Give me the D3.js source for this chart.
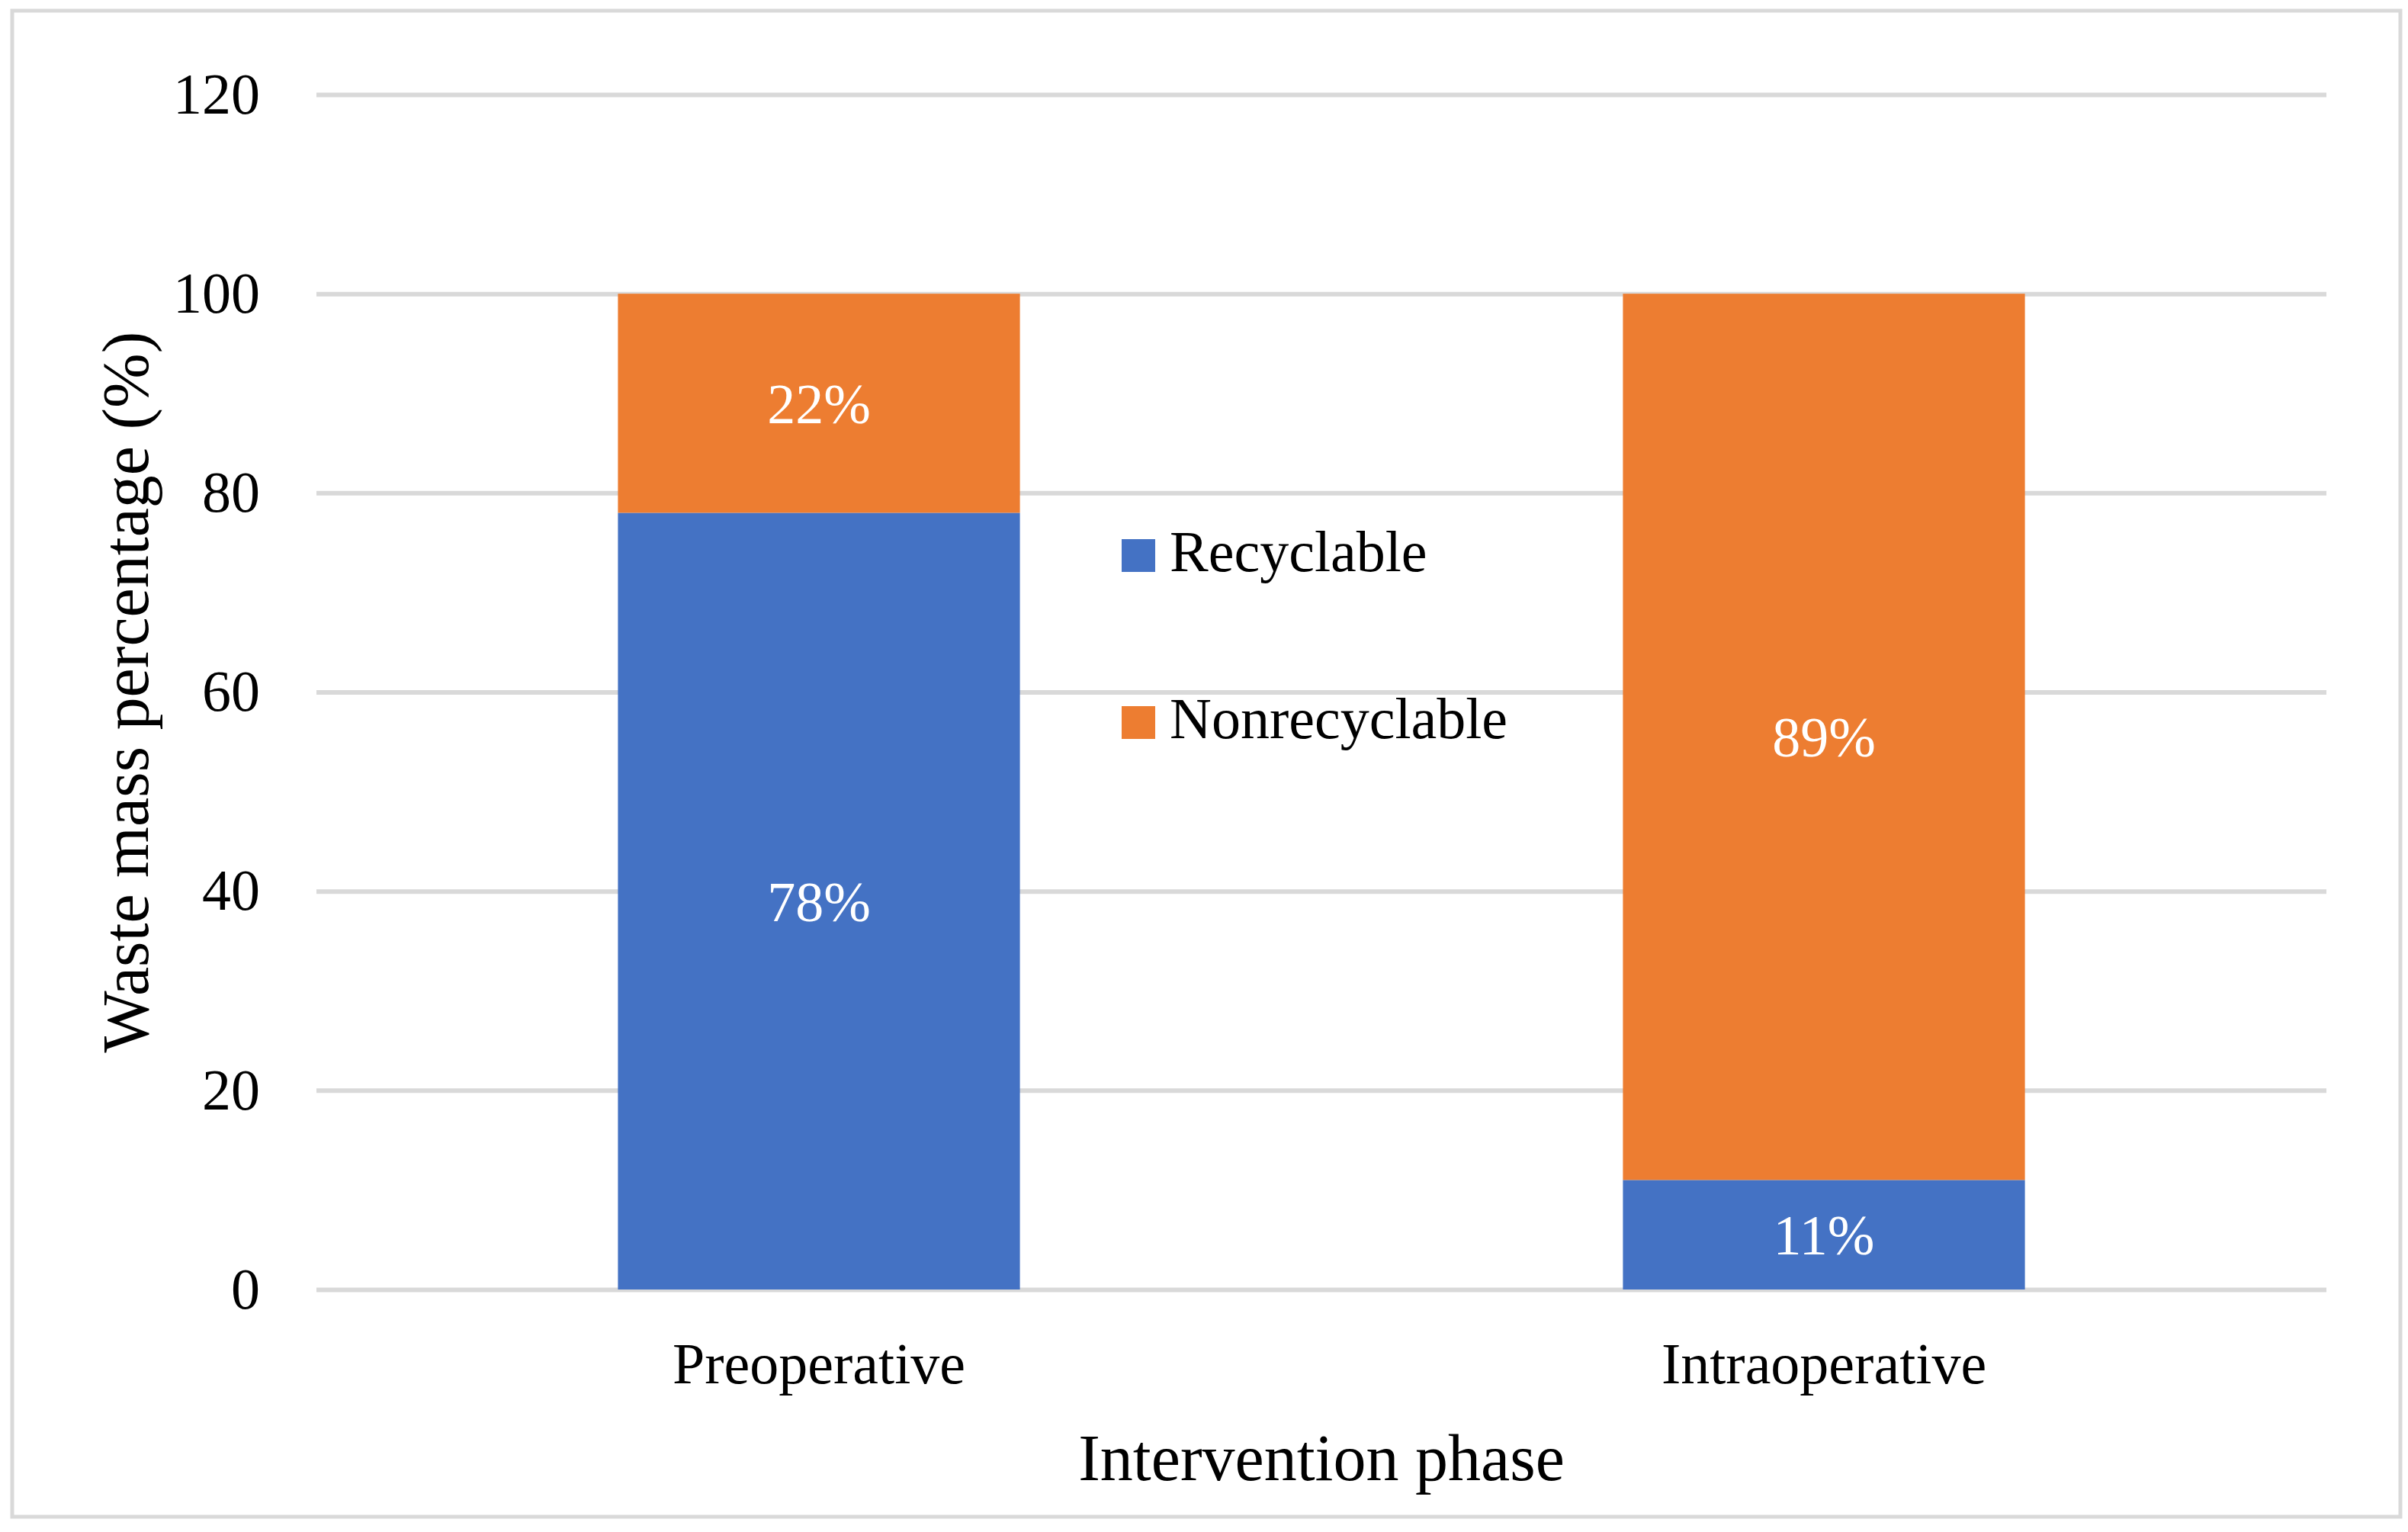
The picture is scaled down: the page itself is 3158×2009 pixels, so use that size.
<!DOCTYPE html>
<html>
<head>
  <meta charset="UTF-8">
  <script src="https://cdn.jsdelivr.net/npm/d3@7"></script>
  <style>
      * {
          box-sizing: border-box;
      }
      body {
          margin: 0;
          background: #fff;
      }
      text {
          font-family: "Liberation Serif", "Times New Roman", serif;
      }
  </style>
</head>
<body>
<div id="root"></div>
<script>

  // chart data
  var categories = ["Preoperative", "Intraoperative"];
  var seriesNames = ["Recyclable", "Nonrecyclable"];
  var recyclable = [78, 11];
  var nonrecyclable = [22, 89];
  var yTicks = [0, 20, 40, 60, 80, 100, 120];
  var colors = ["#4472C4", "#ED7D31"];

  // set the dimensions and margins of the graph
  var W = 3158, H = 2009;
  var margin = {top: 124, right: 107, bottom: 318, left: 415},
    width = W - margin.left - margin.right,
    height = H - margin.top - margin.bottom;

  var rows = categories.map(function(c, i) {
    return {cat: c, Recyclable: recyclable[i], Nonrecyclable: nonrecyclable[i]};
  });
  var stacked = d3.stack().keys(seriesNames)(rows);

  // set the ranges
  var x = d3.scaleBand().domain(categories).range([0, width])
    .paddingInner(0.6).paddingOuter(0.3);
  var y = d3.scaleLinear().domain([0, 120]).range([height, 0]);

  var svg = d3.select("#root").append("svg")
    .attr("width", W)
    .attr("height", H);

  svg.append("rect").attr("width", W).attr("height", H).attr("fill", "#fff");

  // chart area border
  svg.append("rect")
    .attr("x", 16).attr("y", 14)
    .attr("width", W - 26).attr("height", H - 34)
    .attr("fill", "none")
    .attr("stroke", "#d9d9d9")
    .attr("stroke-width", 5);

  var g = svg.append("g")
    .attr("transform", "translate(" + margin.left + "," + margin.top + ")");

  // y grid + labels
  var yAxis = g.append("g")
    .call(d3.axisLeft(y).tickValues(yTicks).tickSize(-width).tickPadding(74));
  yAxis.select(".domain").remove();
  yAxis.selectAll("line").attr("stroke", "#d9d9d9").attr("stroke-width", 6);
  yAxis.selectAll("text")
    .attr("fill", "#000")
    .style("font-size", "76px");

  // bars
  var layer = g.selectAll(".layer")
    .data(stacked)
    .enter().append("g")
    .attr("fill", function(d, i) { return colors[i]; });

  layer.selectAll("rect")
    .data(function(d) { return d; })
    .enter().append("rect")
    .attr("x", function(d) { return x(d.data.cat); })
    .attr("y", function(d) { return y(d[1]); })
    .attr("height", function(d) { return y(d[0]) - y(d[1]); })
    .attr("width", x.bandwidth());

  // value labels
  layer.selectAll("text")
    .data(function(d) { return d; })
    .enter().append("text")
    .attr("x", function(d) { return x(d.data.cat) + x.bandwidth() / 2; })
    .attr("y", function(d) { return y((d[0] + d[1]) / 2); })
    .attr("dy", "0.35em")
    .attr("text-anchor", "middle")
    .attr("fill", "#fff")
    .style("font-size", "74px")
    .text(function(d) { return (d[1] - d[0]) + "%"; });

  // x axis labels
  var xAxis = g.append("g")
    .attr("transform", "translate(0," + height + ")")
    .call(d3.axisBottom(x).tickSize(0));
  xAxis.select(".domain").remove();
  xAxis.selectAll("text")
    .attr("y", 123)
    .attr("dy", 0)
    .attr("fill", "#000")
    .style("font-size", "76px");

  // axis titles
  svg.append("text")
    .attr("x", margin.left + width / 2)
    .attr("y", 1941)
    .attr("text-anchor", "middle")
    .style("font-size", "86px")
    .text("Intervention phase");

  svg.append("text")
    .attr("transform", "translate(194," + (margin.top + height / 2) + ") rotate(-90)")
    .attr("text-anchor", "middle")
    .style("font-size", "86px")
    .text("Waste mass percentage (%)");

  // legend
  var legend = svg.append("g")
    .selectAll("g")
    .data(seriesNames)
    .enter().append("g")
    .attr("transform", function(d, i) { return "translate(1471," + (707 + i * 219) + ")"; });

  legend.append("rect")
    .attr("width", 44).attr("height", 43)
    .attr("fill", function(d, i) { return colors[i]; });

  legend.append("text")
    .attr("x", 63)
    .attr("y", 42)
    .style("font-size", "76px")
    .text(function(d) { return d; });

</script>
</body>
</html>
